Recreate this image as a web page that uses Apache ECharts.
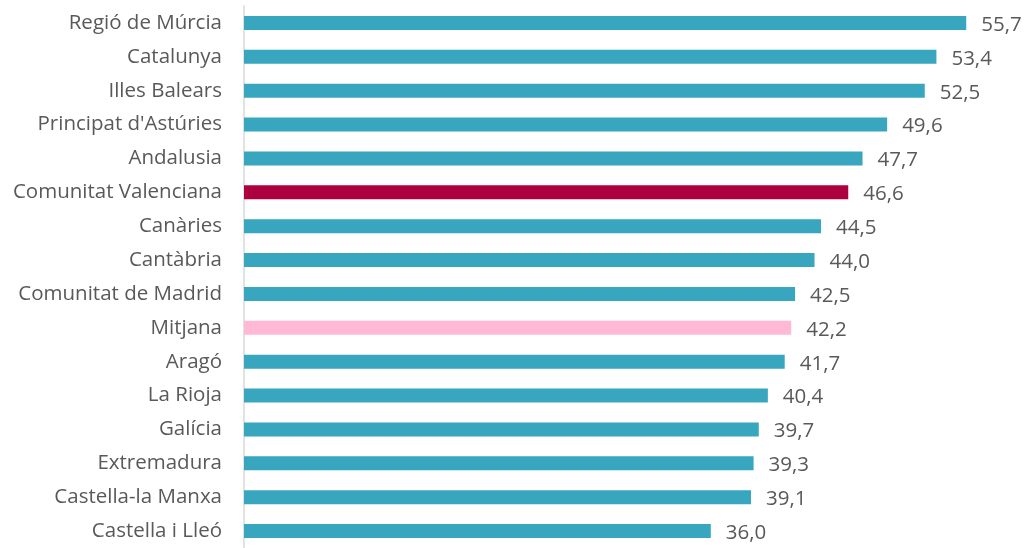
<!DOCTYPE html>
<html>
<head>
<meta charset="utf-8">
<script src="https://cdn.jsdelivr.net/npm/echarts@6/dist/echarts.min.js"></script>
<style>
  html, body { margin: 0; padding: 0; background: #fff; }
  #chart { width: 1025px; height: 548px; }
</style>
</head>
<body>
<div id="chart"></div>
<script>
// Regions, listed from top to bottom
const regions = [
  'Regió de Múrcia', 'Catalunya', 'Illes Balears', "Principat d'Astúries",
  'Andalusia', 'Comunitat Valenciana', 'Canàries', 'Cantàbria',
  'Comunitat de Madrid', 'Mitjana', 'Aragó', 'La Rioja', 'Galícia',
  'Extremadura', 'Castella-la Manxa', 'Castella i Lleó'
];
const values = [55.7, 53.4, 52.5, 49.6, 47.7, 46.6, 44.5, 44.0, 42.5, 42.2, 41.7, 40.4, 39.7, 39.3, 39.1, 36.0];

const highlight = { 'Comunitat Valenciana': '#AD003F', 'Mitjana': '#FFB9D5' };
const baseColor = '#37A6BE';

// Category axis runs bottom-up in ECharts, so reverse for top-down order
const cats = regions.slice().reverse();
const vals = values.slice().reverse();

const chart = echarts.init(document.getElementById('chart'));
chart.setOption({
  animation: false,
  grid: { left: 244, top: 6, width: 778, height: 546, containLabel: false },
  xAxis: {
    type: 'value', min: 0, max: 60,
    show: false
  },
  yAxis: {
    type: 'category',
    data: cats,
    axisLine: { show: true, lineStyle: { color: '#D9D9D9', width: 1.5 } },
    axisTick: { show: false },
    axisLabel: {
      color: '#595959', fontFamily: 'Open Sans', fontSize: 20.5, margin: 22
    }
  },
  series: [{
    type: 'bar',
    barWidth: 14,
    data: vals.map((v, i) => ({
      value: v,
      itemStyle: { color: highlight[cats[i]] || baseColor }
    })),
    label: {
      show: true, position: 'right', distance: 15, offset: [0, 2],
      color: '#595959', fontFamily: 'Open Sans', fontSize: 20.5,
      formatter: p => p.value.toFixed(1).replace('.', ',')
    }
  }]
});
</script>
</body>
</html>
